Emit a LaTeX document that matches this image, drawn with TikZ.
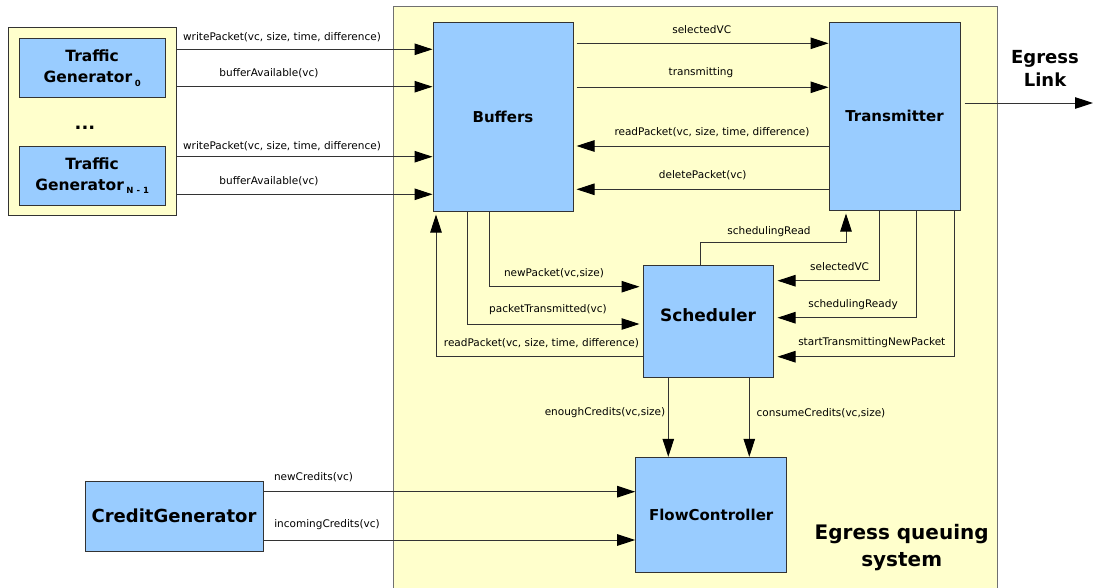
\documentclass[tikz,border=0pt]{standalone}
\usepackage{fontspec}
\setmainfont{DejaVu Sans}
\usetikzlibrary{arrows.meta}
\definecolor{paleyellow}{HTML}{FFFFCC}
\definecolor{boxblue}{HTML}{99CCFF}
\definecolor{edgegray}{HTML}{333333}
\definecolor{framegray}{HTML}{707070}
\newcommand\gensub[1]{\,\raisebox{-3.5pt}{\fontsize{8.5}{8.5}\selectfont #1}}

\begin{document}
\begin{tikzpicture}[x=1pt,y=-1pt,
  area/.style={draw=framegray, fill=paleyellow, line width=1pt, inner sep=0pt},
  block/.style={draw=edgegray, fill=boxblue, line width=1pt, inner sep=0pt,
    font=\bfseries\fontsize{15}{18}\selectfont},
  lbl/.style={inner sep=0pt, font=\fontsize{10.5}{12}\selectfont},
  arr/.style={draw=edgegray, line width=1pt, -{Triangle[length=18pt,width=11.5pt,color=black]}},
  gap/.style={shorten >=3pt},
  title/.style={inner sep=0pt, align=center, font=\bfseries\fontsize{#1}{#1}\selectfont},
]
\useasboundingbox (0,0) rectangle (1093,587);

% enclosing areas
\node[area, anchor=north west, minimum width=604, minimum height=600] (system) at (393,6) {};
\node[area, draw=edgegray, minimum width=167.3, minimum height=188.4] (tgarea) at (92.35,121.5) {};

% traffic generators
\node[block, align=center, font=\bfseries\fontsize{15.5}{21}\selectfont,
  minimum width=145.7, minimum height=59.4] (tg0) at (92.15,68) {Traffic\\Generator\gensub{0}};
\node[block, align=center, font=\bfseries\fontsize{15.5}{21}\selectfont,
  minimum width=145.7, minimum height=59] (tgn) at (92.15,175.5) {Traffic\\Generator\gensub{N - 1}};
\node[inner sep=0pt, font=\bfseries\fontsize{18}{18}\selectfont] (dots) at (85,127.5) {...};

% main blocks
\node[block, minimum width=140, minimum height=189] (buffers) at (503,116.5) {Buffers};
\node[block, minimum width=131, minimum height=188] (trans) at (894.5,116) {Transmitter};
\node[block, minimum width=130, minimum height=112] (sched) at (708,321.3) {};
\node[inner sep=0pt, font=\bfseries\fontsize{17}{17}\selectfont] (schedname) at (708,315) {Scheduler};
\node[block, minimum width=151, minimum height=115] (flow) at (711.2,514.8) {FlowController};
\node[block, font=\bfseries\fontsize{18}{18}\selectfont,
  minimum width=178, minimum height=70] (credit) at (174,516) {CreditGenerator};

% titles
\node[title=18, font=\bfseries\fontsize{18}{23.3}\selectfont] (linklbl) at (1045,68.3) {Egress\\Link};
\node[title=20, font=\bfseries\fontsize{20}{27}\selectfont] (systemlbl) at (901.7,547.5) {Egress queuing\\system};

% generators -> buffers
\draw[arr] (tgarea.east |- 0,49.3) -- (buffers.west |- 0,49.3);
\draw[arr] (tgarea.east |- 0,86.7) -- (buffers.west |- 0,86.7);
\draw[arr] (tgarea.east |- 0,156.7) -- (buffers.west |- 0,156.7);
\draw[arr] (tgarea.east |- 0,194.3) -- (buffers.west |- 0,194.3);
\node[lbl] (wp0) at (282,37.3) {writePacket(vc, size, time, difference)};
\node[lbl] (ba0) at (269,73.3) {bufferAvailable(vc)};
\node[lbl] (wpn) at (282,145.7) {writePacket(vc, size, time, difference)};
\node[lbl] (ban) at (269,180.7) {bufferAvailable(vc)};

% buffers <-> transmitter
\draw[arr, shorten <=3pt] (buffers.east |- 0,43.3) -- (trans.west |- 0,43.3);
\draw[arr, shorten <=3pt] (buffers.east |- 0,87.3) -- (trans.west |- 0,87.3);
\draw[arr, gap] (trans.west |- 0,146) -- (buffers.east |- 0,146);
\draw[arr, gap] (trans.west |- 0,189.3) -- (buffers.east |- 0,189.3);
\node[lbl] (svc1) at (701.7,30) {selectedVC};
\node[lbl] (txg) at (701,72.3) {transmitting};
\node[lbl] (rp1) at (712,131.7) {readPacket(vc, size, time, difference)};
\node[lbl] (dp) at (702.7,175) {deletePacket(vc)};

% egress link
\coordinate (linkend) at (1093,103);
\draw[arr, shorten <=4pt] (trans.east |- linkend) -- (linkend);

% buffers <-> scheduler
\draw[arr, gap] (buffers.south -| 489,0) |- (sched.west |- 0,286.7);
\draw[arr, gap] (buffers.south -| 467.5,0) |- (sched.west |- 0,324);
\draw[arr, gap] (sched.west |- 0,356.7) -| (buffers.south -| 436,0);
\node[lbl] (np) at (554,272.7) {newPacket(vc,size)};
\node[lbl] (pt) at (548,310) {packetTransmitted(vc)};
\node[lbl] (rp2) at (541.4,342.7) {readPacket(vc, size, time, difference)};

% scheduler <-> transmitter
\draw[arr, gap] (sched.north -| 700.4,0) -- ++(0,-22) -| (trans.south -| 846,0);
\draw[arr, shorten >=4pt] (trans.south -| 879,0) |- (sched.east |- 0,280.7);
\draw[arr, shorten >=4pt] (trans.south -| 916.4,0) |- (sched.east |- 0,317.7);
\draw[arr, shorten >=4pt] (trans.south -| 954.6,0) |- (sched.east |- 0,356.7);
\node[lbl] (sr) at (769,231.7) {schedulingRead};
\node[lbl] (svc2) at (839.6,266.7) {selectedVC};
\node[lbl] (sready) at (853,304.3) {schedulingReady};
\node[lbl] (stnp) at (871.8,342.3) {startTransmittingNewPacket};

% scheduler -> flow controller
\draw[arr] (sched.south -| 668.3,0) -- (flow.north -| 668.3,0);
\draw[arr] (sched.south -| 749.3,0) -- (flow.north -| 749.3,0);
\node[lbl] (ec) at (605,413) {enoughCredits(vc,size)};
\node[lbl] (cc) at (821,413) {consumeCredits(vc,size)};

% credit generator -> flow controller
\draw[arr] (credit.east |- 0,491.7) -- (flow.west |- 0,491.7);
\draw[arr] (credit.east |- 0,540) -- (flow.west |- 0,540);
\node[lbl] (nc) at (313.5,477) {newCredits(vc)};
\node[lbl] (ic) at (327,525) {incomingCredits(vc)};
\end{tikzpicture}
\end{document}
